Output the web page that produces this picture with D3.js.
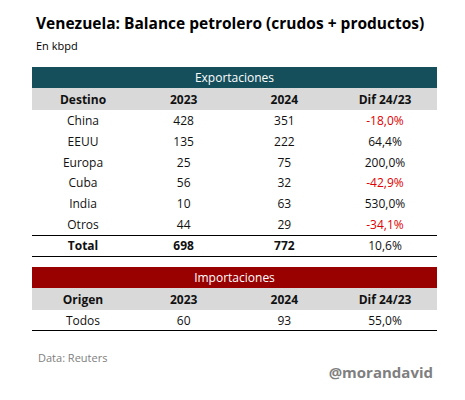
<!DOCTYPE html>
<html><head><meta charset="utf-8">
<script src="https://cdn.jsdelivr.net/npm/d3@7"></script>
<style>body{margin:0;background:#fff}</style>
</head><body>
<script>
const destinos = ["China","EEUU","Europa","Cuba","India","Otros"];
const exp2023 = [428,135,25,56,10,44];
const exp2024 = [351,222,75,32,63,29];
const expDif = ["-18,0%","64,4%","200,0%","-42,9%","530,0%","-34,1%"];
const total = ["Total",698,772,"10,6%"];
const importRow = ["Todos",60,93,"55,0%"];
const expHeader = ["Destino","2023","2024","Dif 24/23"];
const impHeader = ["Origen","2023","2024","Dif 24/23"];

const W = 465, H = 400, x0 = 32, x1 = 437, rh = 20.7;
const font = "'Open Sans', sans-serif";
const svg = d3.select("body").append("svg").attr("width", W).attr("height", H)
  .attr("font-family", font);

const col = d3.scalePoint().domain(d3.range(4)).range([83, 385]);

svg.append("text").attr("x", 36).attr("y", 29).attr("font-size", 15.5)
  .attr("font-weight", "bold").text("Venezuela: Balance petrolero (crudos + productos)");
svg.append("text").attr("x", 36).attr("y", 50).attr("font-size", 11).text("En kbpd");

function band(y, h, fill, label) {
  svg.append("rect").attr("x", x0).attr("y", y).attr("width", x1 - x0).attr("height", h).attr("fill", fill);
  svg.append("text").attr("x", (x0 + x1) / 2).attr("y", y + h / 2).attr("dy", "0.35em")
    .attr("text-anchor", "middle").attr("fill", "#fff").attr("font-size", 12).text(label);
}
function row(y, cells, bold = []) {
  svg.append("g").selectAll("text").data(cells).join("text")
    .attr("x", (d, i) => col(i)).attr("y", y).attr("dy", "0.35em")
    .attr("text-anchor", "middle").attr("font-size", 12)
    .attr("font-weight", (d, i) => bold.includes(i) ? "bold" : null)
    .attr("fill", (d, i) => i === 3 && String(d).startsWith("-") ? "#e00000" : "#111")
    .text(d => d);
}
function rule(y) {
  svg.append("line").attr("x1", x0).attr("x2", x1).attr("y1", y).attr("y2", y)
    .attr("stroke", "#000").attr("stroke-width", 1.2);
}

band(67, 21, "#154f5c", "Exportaciones");
svg.append("rect").attr("x", x0).attr("y", 88).attr("width", x1 - x0).attr("height", 22).attr("fill", "#d9d9d9");
row(99.5, expHeader, [0, 1, 2, 3]);
destinos.forEach((d, i) => row(121 + i * rh, [d, exp2023[i], exp2024[i], expDif[i]]));
rule(235.5);
row(246, total, [0, 1, 2]);
rule(256.5);

band(267, 21, "#990000", "Importaciones");
svg.append("rect").attr("x", x0).attr("y", 288).attr("width", x1 - x0).attr("height", 22).attr("fill", "#d9d9d9");
row(299.5, impHeader, [0, 1, 2, 3]);
row(320.5, importRow);
rule(330.5);

svg.append("text").attr("x", 38).attr("y", 362).attr("font-size", 11).attr("fill", "#808080").text("Data: Reuters");
svg.append("text").attr("x", 433).attr("y", 378).attr("text-anchor", "end").attr("font-size", 15)
  .attr("font-weight", "bold").attr("fill", "#7f7f7f").text("@morandavid");
</script>
</body></html>
